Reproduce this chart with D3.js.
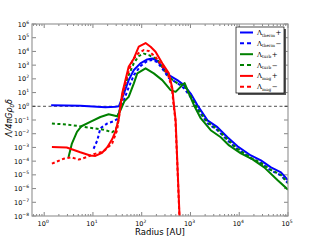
<!DOCTYPE html>
<html>
<head>
<meta charset="utf-8">
<script src="https://cdn.jsdelivr.net/npm/d3@7"></script>
<style>
  body { margin: 0; background: #fff; }
  svg { display: block; }
</style>
</head>
<body>
<div id="plot"></div>
<script>
// series values: [radius AU, Lambda / 4 pi G rho0 delta]
const thermPlus = [
  [1.39, 1.2], [5.5, 1.1], [18, 0.85], [29, 0.93], [34, 1.0], [43, 8.5], [54, 81],
  [69, 440], [94, 1350], [130, 2600], [164, 3100], [208, 2100], [264, 760], [361, 186],
  [537, 81], [735, 35], [1010, 8.5], [1390, 1.2], [2230, 0.095], [3570, 0.03],
  [5740, 5.5e-3], [9230, 1.2e-3], [17300, 2.6e-4], [27800, 1.15e-4], [44700, 3.5e-5],
  [71800, 1.5e-5], [1e5, 4e-6]
];
const thermMinus = [
  [10.3, 8e-4], [12.3, 3.3e-3], [14.2, 0.025], [19.5, 0.055], [26.3, 0.08], [31.3, 0.115],
  [36.6, 0.9], [43, 2.8], [54, 24], [69, 186], [94, 850], [130, 2000], [164, 2350],
  [208, 1650], [264, 560], [361, 112], [537, 49], [735, 21], [1010, 4.6], [1390, 0.62],
  [2230, 0.058], [3570, 0.018], [5740, 3.3e-3], [9230, 7.2e-4], [17300, 1.6e-4],
  [27800, 6.9e-5], [44700, 2.1e-5], [71800, 9.1e-6], [1e5, 2.4e-6]
];
const turbPlus = [
  [3.16, 2e-4], [3.7, 1.9e-3], [4.7, 0.0135], [5.8, 0.035], [8.8, 0.072], [14.2, 0.166],
  [21, 0.26], [31.3, 0.19], [36.6, 0.51], [44, 2.3], [54, 4.9], [69, 47], [81, 250],
  [120, 580], [177, 250], [264, 81], [392, 15], [496, 11.3], [680, 35], [760, 49],
  [930, 8.5], [1180, 1.2], [1620, 0.135], [2600, 0.018], [4180, 5.5e-3], [6200, 1.4e-3],
  [10800, 3.7e-4], [18800, 1.35e-4], [32500, 3.5e-5], [61400, 4e-6], [1e5, 8.3e-7]
];
const turbMinus = [
  [1.44, 0.055], [2.5, 0.049], [4.7, 0.038], [8.8, 0.027], [16.6, 0.0195], [24.7, 0.0129],
  [29, 0.018], [31.8, 0.042], [36.6, 1.4], [43, 21], [54, 186], [69, 1400], [87, 4600],
  [110, 6900], [140, 5400], [208, 2750], [309, 325], [430, 81], [572, 41], [735, 35],
  [1010, 5.5], [1390, 0.72], [2230, 0.069], [3570, 0.021], [5740, 3.9e-3], [9230, 8e-4],
  [17300, 1.75e-4], [27800, 7.5e-5], [44700, 2.3e-5], [71800, 1e-5], [1e5, 2.6e-6]
];
const magPlus = [
  [1.44, 1.07e-3], [2.9, 9.8e-4], [5.5, 4.4e-4], [8.8, 2.6e-4], [11.2, 2.4e-4],
  [15.4, 4.1e-4], [19.5, 1e-3], [24.7, 3.9e-3], [29, 0.015], [34, 0.135], [36.6, 1.0],
  [39.7, 8.5], [46.4, 81], [54, 760], [69, 3100], [87, 22000], [120, 41000], [152, 22000],
  [192, 9500], [264, 1350], [361, 250], [424, 21], [458, 1.2], [496, 0.095],
  [546, 2.1e-5], [614, 8.7e-10]
];
const magMinus = [
  [1.44, 6.6e-5], [2.5, 1.5e-4], [3.6, 1.9e-4], [5.1, 1.3e-4], [7.6, 2e-4], [10.3, 3.2e-4],
  [16.6, 5.2e-4], [24.7, 1.9e-3], [31.3, 0.018], [36.6, 0.85], [42.3, 10.7], [51, 186],
  [65, 2350], [86, 7600], [110, 12600], [140, 10700], [192, 3900], [264, 850], [348, 186],
  [416, 21], [451, 1.2], [491, 0.095], [546, 1.5e-5], [608, 8.7e-10]
];

const seriesNames = ["therm", "therm", "turb", "turb", "mag", "mag"];
const seriesSigns = ["+", "\u2212", "+", "\u2212", "+", "\u2212"];
const seriesColors = ["#0000ff", "#0000ff", "#008000", "#008000", "#ff0000", "#ff0000"];
const seriesDashed = [false, true, false, true, false, true];
const seriesData = [thermPlus, thermMinus, turbPlus, turbMinus, magPlus, magMinus];

const xTickExps = [0, 1, 2, 3, 4, 5];
const yTickExps = [6, 5, 4, 3, 2, 1, 0, -1, -2, -3, -4, -5, -6, -7, -8];

const w = 320, h = 240;
const margin = {top: 24, right: 32, bottom: 24, left: 32};
const x0 = margin.left, x1 = w - margin.right;
const y0 = margin.top, y1 = h - margin.bottom;

const xScale = d3.scaleLog().domain([Math.pow(10, -0.25), 1e5]).range([x0, x1]);
const yScale = d3.scaleLog().domain([1e-8, 1e6]).range([y1, y0]);

const svg = d3.select("#plot").append("svg")
  .attr("width", w).attr("height", h);

svg.append("defs").append("clipPath").attr("id", "clip")
  .append("rect").attr("x", x0).attr("y", y0)
  .attr("width", x1 - x0).attr("height", y1 - y0);

const fmtExp = e => (e < 0 ? "\u2212" + (-e) : "" + e);

// minor ticks on x (log), both bottom and top
const minor = [];
for (let e = -1; e < 5; e++) {
  for (let k = 2; k < 10; k++) {
    const v = k * Math.pow(10, e);
    if (v > xScale.domain()[0] && v < 1e5) minor.push(v);
  }
}
const tickG = svg.append("g").attr("stroke", "#333").attr("stroke-width", 0.6);
minor.forEach(v => {
  const x = xScale(v);
  tickG.append("line").attr("x1", x).attr("x2", x).attr("y1", y1).attr("y2", y1 - 2);
  tickG.append("line").attr("x1", x).attr("x2", x).attr("y1", y0).attr("y2", y0 + 2);
});
xTickExps.forEach(e => {
  const x = xScale(Math.pow(10, e));
  tickG.append("line").attr("x1", x).attr("x2", x).attr("y1", y1).attr("y2", y1 - 4);
  tickG.append("line").attr("x1", x).attr("x2", x).attr("y1", y0).attr("y2", y0 + 4);
});
yTickExps.forEach(e => {
  const y = yScale(Math.pow(10, e));
  tickG.append("line").attr("x1", x0).attr("x2", x0 + 4).attr("y1", y).attr("y2", y);
  tickG.append("line").attr("x1", x1).attr("x2", x1 - 4).attr("y1", y).attr("y2", y);
});

// tick labels
const xLab = svg.append("g").attr("font-family", "DejaVu Sans").attr("fill", "#000");
xTickExps.forEach(e => {
  const t = xLab.append("text")
    .attr("x", xScale(Math.pow(10, e)) - 1)
    .attr("y", y1 + 10)
    .attr("text-anchor", "middle")
    .attr("font-size", 6.5);
  t.append("tspan").text("10");
  t.append("tspan").attr("font-size", 4.5).attr("dy", -3).text(fmtExp(e));
});
yTickExps.forEach(e => {
  const t = xLab.append("text")
    .attr("x", x0 - 3)
    .attr("y", yScale(Math.pow(10, e)) + 2.5)
    .attr("text-anchor", "end")
    .attr("font-size", 6.5);
  t.append("tspan").text("10");
  t.append("tspan").attr("font-size", 4.5).attr("dy", -3).text(fmtExp(e));
});

// reference line at 1
svg.append("line")
  .attr("x1", x0).attr("x2", x1)
  .attr("y1", yScale(1)).attr("y2", yScale(1))
  .attr("stroke", "#000").attr("stroke-width", 0.7)
  .attr("stroke-dasharray", "3,2.5");

// curves
const line = d3.line()
  .x(d => xScale(d[0]))
  .y(d => yScale(d[1]));

const plotG = svg.append("g").attr("clip-path", "url(#clip)");
seriesData.forEach((data, i) => {
  plotG.append("path")
    .datum(data)
    .attr("d", line)
    .attr("fill", "none")
    .attr("stroke", seriesColors[i])
    .attr("stroke-width", 2)
    .attr("stroke-linejoin", "round")
    .attr("stroke-dasharray", seriesDashed[i] ? "3,2.5" : null);
});

// frame
svg.append("rect")
  .attr("x", x0).attr("y", y0)
  .attr("width", x1 - x0).attr("height", y1 - y0)
  .attr("fill", "none").attr("stroke", "#999").attr("stroke-width", 1.2);

// legend
const lg = svg.append("g");
lg.append("rect").attr("x", 238).attr("y", 29).attr("width", 48).attr("height", 66)
  .attr("fill", "#555");
lg.append("rect").attr("x", 236).attr("y", 27).attr("width", 48).attr("height", 66)
  .attr("fill", "#fff").attr("stroke", "#000").attr("stroke-width", 0.7);
seriesNames.forEach((name, i) => {
  const y = 32.5 + i * 10.85;
  lg.append("line")
    .attr("x1", 240).attr("x2", 253).attr("y1", y).attr("y2", y)
    .attr("stroke", seriesColors[i]).attr("stroke-width", 2)
    .attr("stroke-dasharray", seriesDashed[i] ? "4,3" : null);
  const t = lg.append("text")
    .attr("x", 257).attr("y", y + 2.5)
    .attr("font-family", "DejaVu Serif")
    .attr("font-size", 7)
    .attr("fill", "#000");
  t.append("tspan").text("\u039b");
  t.append("tspan").attr("font-size", 4.2).attr("dy", 1.5).text(name);
  t.append("tspan").attr("dy", -1.5).attr("dx", 0.5).text(seriesSigns[i]);
});

// axis labels
svg.append("text")
  .attr("x", (x0 + x1) / 2).attr("y", 235)
  .attr("text-anchor", "middle")
  .attr("font-family", "DejaVu Sans")
  .attr("font-size", 8.5)
  .text("Radius [AU]");

const yl = svg.append("text")
  .attr("transform", `translate(12, 118) rotate(-90)`)
  .attr("text-anchor", "middle")
  .attr("font-family", "DejaVu Sans")
  .attr("font-style", "italic")
  .attr("font-size", 8);
yl.append("tspan").text("\u039b/4\u03c0G\u03c1");
yl.append("tspan").attr("font-size", 5.5).attr("dy", 1.5).text("0");
yl.append("tspan").attr("dy", -1.5).text("\u03b4");
</script>
</body>
</html>
